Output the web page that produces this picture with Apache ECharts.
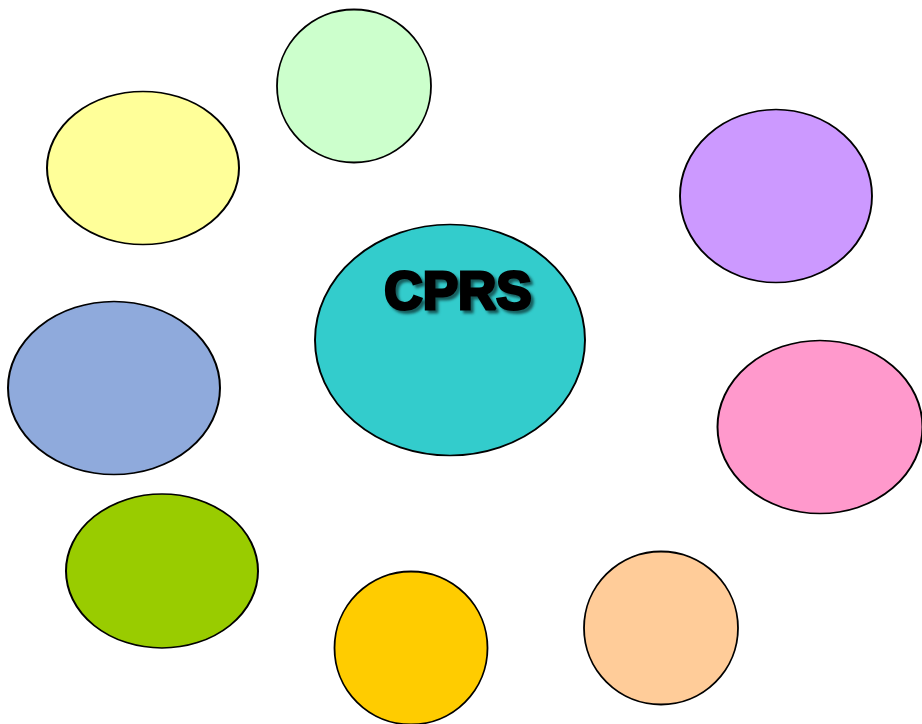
<!DOCTYPE html>
<html>
<head>
<meta charset="utf-8">
<script src="https://cdn.jsdelivr.net/npm/echarts@6/dist/echarts.min.js"></script>
<style>html,body{margin:0;padding:0;background:#fff}#c{width:922px;height:724px}</style>
</head>
<body>
<div id="c"></div>
<script>
// Ellipse diagram data (center x, center y, width, height in chart units)
const names   = ['CPRS', 'light green', 'yellow', 'purple', 'blue', 'pink', 'green', 'gold', 'peach'];
const centerX = [450, 354, 143, 776, 114, 820, 162, 411, 661];
const centerY = [340, 86, 168, 196, 388, 427, 571, 648, 628];
const widths  = [270, 154, 192, 192, 212, 205, 192, 153, 154];
const heights = [231, 153, 153, 173, 173, 173, 154, 153, 153];
const colors  = ['#33CCCC', '#CCFFCC', '#FFFF99', '#CC99FF', '#8FAADC', '#FF99CC', '#99CC00', '#FFCC00', '#FFCC99'];
const labels  = ['CPRS', '', '', '', '', '', '', '', ''];

const chart = echarts.init(document.getElementById('c'), null, {renderer: 'canvas'});
const data = names.map((n, i) => ({
  name: n,
  value: [centerX[i], centerY[i]],
  symbolSize: [widths[i], heights[i]],
  itemStyle: {color: colors[i]},
  label: {
    show: labels[i] !== '',
    formatter: labels[i],
    position: 'inside',
    offset: [8, -46],
    fontFamily: 'Liberation Sans, Arial, sans-serif',
    fontWeight: 900,
    fontSize: 53,
    color: '#000',
    textBorderColor: '#000',
    textBorderWidth: 3,
    textShadowColor: 'rgba(0,0,0,0.45)',
    textShadowBlur: 3,
    textShadowOffsetX: 3,
    textShadowOffsetY: 3
  }
}));
chart.setOption({
  backgroundColor: '#fff',
  animation: false,
  grid: {left: 0, right: 0, top: 0, bottom: 0},
  xAxis: {type: 'value', min: 0, max: 922, show: false},
  yAxis: {type: 'value', min: 0, max: 724, inverse: true, show: false},
  series: [{
    type: 'scatter',
    symbol: 'circle',
    clip: false,
    itemStyle: {borderColor: '#000', borderWidth: 1.8, opacity: 1},
    emphasis: {disabled: true},
    data: data
  }]
});
</script>
</body>
</html>
